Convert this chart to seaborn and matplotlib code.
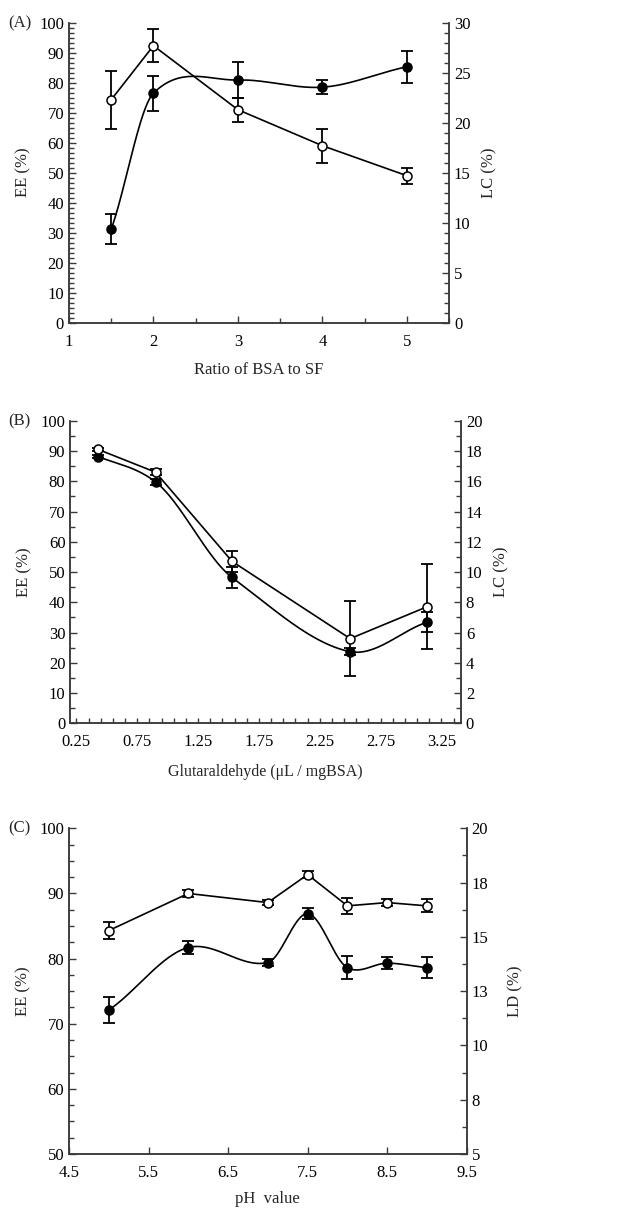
import numpy as np
import matplotlib
matplotlib.use("Agg")
import matplotlib.pyplot as plt
from matplotlib.ticker import MultipleLocator, FuncFormatter
import seaborn as sns

# DATA
# (A) ratio of BSA to SF
ratio = [1.5, 2, 3, 4, 5]
ee_a = [31.2, 76.5, 80.9, 78.5, 85.3]
ee_a_err = [5.0, 5.8, 6.0, 2.4, 5.4]
lc_a = [22.3, 27.7, 21.3, 17.7, 14.7]
lc_a_err = [2.9, 1.65, 1.2, 1.7, 0.8]

# (B) glutaraldehyde
glu = [0.43, 0.9, 1.53, 2.5, 3.13]
ee_b = [88.1, 79.8, 48.2, 23.7, 33.4]
ee_b_err = [0.5, 0.9, 3.6, 1.2, 3.3]
lc_b = [18.1, 16.6, 10.7, 5.6, 7.7]
lc_b_err = [0.1, 0.2, 0.7, 2.5, 2.8]

# (C) pH
ph = [5, 6, 7, 7.5, 8, 8.5, 9]
ee_c = [72.1, 81.7, 79.4, 86.9, 78.6, 79.3, 78.6]
ee_c_err = [2.0, 1.0, 0.6, 0.8, 1.8, 0.9, 1.6]
ld_c = [15.29, 17.0, 16.58, 17.87, 16.43, 16.58, 16.43]
ld_c_err = [0.39, 0.15, 0.12, 0.15, 0.36, 0.15, 0.3]

sns.set_theme(style="ticks")
plt.rcParams['font.family'] = ['Liberation Serif', 'DejaVu Serif']
FS = 12
SPINE = '#3a3a3a'


def smooth(x, y, n=60, tension=0.85):
    # hermite curve through the points (catmull-rom style tangents)
    x = np.asarray(x, float)
    y = np.asarray(y, float)
    m = np.zeros_like(y)
    m[0] = (y[1] - y[0]) / (x[1] - x[0])
    m[-1] = (y[-1] - y[-2]) / (x[-1] - x[-2])
    for i in range(1, len(x) - 1):
        m[i] = (y[i + 1] - y[i - 1]) / (x[i + 1] - x[i - 1])
    m = m * tension
    xs, ys = [], []
    t = np.linspace(0, 1, n)
    for i in range(len(x) - 1):
        h = x[i + 1] - x[i]
        h00 = 2 * t**3 - 3 * t**2 + 1
        h10 = t**3 - 2 * t**2 + t
        h01 = -2 * t**3 + 3 * t**2
        h11 = t**3 - t**2
        xs.append(x[i] + t * h)
        ys.append(h00 * y[i] + h10 * h * m[i] + h01 * y[i + 1] + h11 * h * m[i + 1])
    return np.concatenate(xs), np.concatenate(ys)


def style(ax):
    for s in ['left', 'right', 'bottom']:
        ax.spines[s].set_visible(True)
        ax.spines[s].set_color(SPINE)
        ax.spines[s].set_linewidth(1.1)
    ax.spines['top'].set_visible(False)
    ax.tick_params(which='both', direction='in', colors=SPINE, labelcolor='black',
                   labelsize=FS, width=1.0)
    ax.tick_params(which='major', length=5)
    ax.tick_params(which='minor', length=3.5)
    ax.tick_params(axis='x', pad=8)
    ax.grid(False)
    ax.set_facecolor('none')


def draw_series(ax, x, y, err, filled, curve):
    ax.errorbar(x, y, yerr=err, fmt='none', ecolor='black', elinewidth=1.3,
                capsize=4.5, capthick=1.3, zorder=2)
    if curve:
        xs, ys = smooth(x, y)
    else:
        xs, ys = x, y
    sns.lineplot(x=xs, y=ys, ax=ax, color='black', lw=1.2, sort=False,
                 estimator=None, zorder=3)
    sns.scatterplot(x=x, y=y, ax=ax, s=42, marker='o',
                    color='black' if filled else 'white',
                    edgecolor='black', linewidth=1.1, zorder=4)


fig = plt.figure(figsize=(6.17, 12.08), dpi=100)

# ---------------- (A)
ax = fig.add_axes([0.1118, 0.7329, 0.616, 0.2483])
ax2 = ax.twinx()
draw_series(ax, ratio, ee_a, ee_a_err, True, True)
draw_series(ax2, ratio, lc_a, lc_a_err, False, False)
ax.set_xlim(1, 5.5)
ax.set_ylim(0, 100)
ax2.set_ylim(0, 30)
ax.xaxis.set_major_locator(MultipleLocator(1))
ax.xaxis.set_minor_locator(MultipleLocator(0.5))
ax.yaxis.set_major_locator(MultipleLocator(10))
ax.yaxis.set_minor_locator(MultipleLocator(10 / 6))
ax2.yaxis.set_major_locator(MultipleLocator(5))
ax2.yaxis.set_minor_locator(MultipleLocator(1))
ax.set_xlabel('Ratio of BSA to SF', fontsize=FS, labelpad=9)
ax.set_ylabel('EE (%)', fontsize=FS, labelpad=6)
ax2.set_ylabel('LC (%)', fontsize=FS, labelpad=8)
style(ax)
style(ax2)
fig.text(8 / 617, 1 - 23 / 1208, '(A)', fontsize=FS, va='center', ha='left')

# ---------------- (B)
ax = fig.add_axes([0.114, 0.4012, 0.633, 0.2505])
ax2 = ax.twinx()
draw_series(ax, glu, ee_b, ee_b_err, True, True)
draw_series(ax2, glu, lc_b, lc_b_err, False, False)
ax.set_xlim(0.2, 3.41)
ax.set_ylim(0, 100)
ax2.set_ylim(0, 20)
ax.set_xticks([0.25, 0.75, 1.25, 1.75, 2.25, 2.75, 3.25])
ax.xaxis.set_minor_locator(MultipleLocator(0.1, offset=0.05))
ax.yaxis.set_major_locator(MultipleLocator(10))
ax.yaxis.set_minor_locator(MultipleLocator(5))
ax2.yaxis.set_major_locator(MultipleLocator(2))
ax2.yaxis.set_minor_locator(MultipleLocator(1))
ax.set_xlabel('Glutaraldehyde (μL / mgBSA)', fontsize=11.5, labelpad=10)
ax.set_ylabel('EE (%)', fontsize=FS, labelpad=6)
ax2.set_ylabel('LC (%)', fontsize=FS, labelpad=8)
style(ax)
style(ax2)
ax.tick_params(axis='x', which='major', length=3.5)
fig.text(8 / 617, 1 - 421 / 1208, '(B)', fontsize=FS, va='center', ha='left')

# ---------------- (C)
ax = fig.add_axes([0.1118, 0.0447, 0.6446, 0.2696])
ax2 = ax.twinx()
draw_series(ax, ph, ee_c, ee_c_err, True, True)
draw_series(ax2, ph, ld_c, ld_c_err, False, False)
ax.set_xlim(4.5, 9.5)
ax.set_ylim(50, 100)
ax2.set_ylim(5, 20)
ax.set_xticks([4.5, 5.5, 6.5, 7.5, 8.5, 9.5])
ax.yaxis.set_major_locator(MultipleLocator(10))
ax.yaxis.set_minor_locator(MultipleLocator(2.5))
ax2.yaxis.set_major_locator(MultipleLocator(2.5))
ax2.yaxis.set_minor_locator(MultipleLocator(1.25))
ax2.yaxis.set_major_formatter(FuncFormatter(lambda v, p: str(int(np.floor(v + 0.5)))))
ax.set_xlabel('pH  value', fontsize=FS, labelpad=7)
ax.set_ylabel('EE (%)', fontsize=FS, labelpad=6)
ax2.set_ylabel('LD (%)', fontsize=FS, labelpad=14)
style(ax)
style(ax2)
ax.tick_params(axis='x', which='major', length=5)
fig.text(8 / 617, 1 - 828 / 1208, '(C)', fontsize=FS, va='center', ha='left')

fig.savefig('out.png', dpi=100, facecolor='white')
